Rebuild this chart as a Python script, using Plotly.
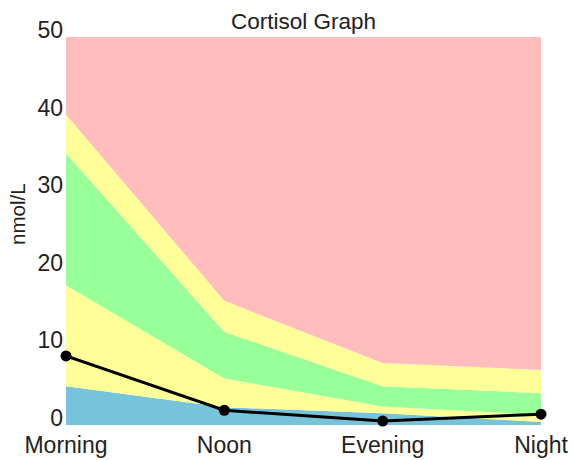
import plotly.graph_objects as go

times = ["Morning", "Noon", "Evening", "Night"]
blue_top = [5.0, 2.3, 1.5, 0.4]
yellow_low_top = [18.0, 6.0, 2.4, 1.3]
green_top = [35.0, 12.0, 5.0, 4.1]
yellow_high_top = [40.0, 16.0, 8.0, 7.1]
pink_top = [50, 50, 50, 50]
cortisol = [8.9, 1.9, 0.5, 1.4]
y_ticks = [0, 10, 20, 30, 40, 50]

colors = ["#77C3DB", "#FFFF99", "#99FF99", "#FFFF99", "#FFBDBD"]
bands = [blue_top, yellow_low_top, green_top, yellow_high_top, pink_top]

fig = go.Figure()
for i, (band, col) in enumerate(zip(bands, colors)):
    fig.add_trace(go.Scatter(
        x=times, y=band, mode="lines",
        line=dict(width=0, color=col),
        fill="tozeroy" if i == 0 else "tonexty",
        fillcolor=col, showlegend=False, hoverinfo="skip",
    ))

fig.add_trace(go.Scatter(
    x=times, y=cortisol, mode="lines+markers",
    line=dict(color="black", width=3),
    marker=dict(color="black", size=11),
    cliponaxis=False, showlegend=False,
))

font = "Liberation Sans, Arial, sans-serif"
fig.update_layout(
    width=571, height=460,
    margin=dict(l=66, r=30, t=37, b=35, autoexpand=False),
    paper_bgcolor="white", plot_bgcolor="white",
    font=dict(family=font, size=23, color="#222222"),
    title=dict(text="Cortisol Graph", x=0.5315, xanchor="center",
               y=0.955, yanchor="middle", font=dict(size=22.5)),
    annotations=[dict(
        text="nmol/L", textangle=-90, xref="paper", yref="paper",
        x=-0.101, y=0.544, xanchor="center", yanchor="middle",
        showarrow=False, font=dict(size=20.5),
    )],
)
fig.update_xaxes(
    type="category", range=[0, 3], showgrid=False, zeroline=False,
    showline=False, ticks="", tickfont=dict(size=23), automargin=False,
    ticklabelstandoff=4,
)
fig.update_yaxes(
    range=[0, 50], tickvals=y_ticks, showgrid=False, zeroline=False,
    showline=False, ticks="", tickfont=dict(size=23), ticklabelshift=-7,
    ticklabelstandoff=2, automargin=False,
)

fig.write_html("out.html", config={"displayModeBar": False},
               post_script="document.body.style.margin='0';")
